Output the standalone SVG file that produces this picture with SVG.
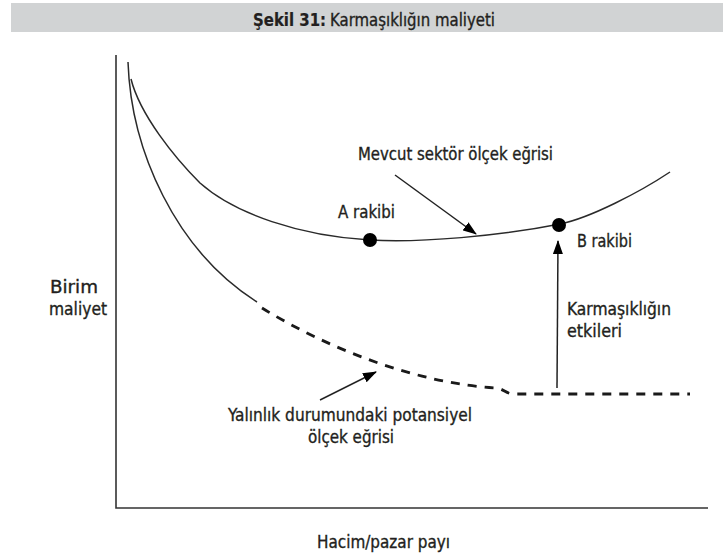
<svg xmlns="http://www.w3.org/2000/svg" width="723" height="556" viewBox="0 0 723 556">
<style>
  .t { font-family: "DejaVu Sans Condensed", "Liberation Sans", sans-serif; font-size: 18.5px; fill: #231f20; stroke: #231f20; stroke-width: 0.35; }
  .b { font-weight: bold; stroke-width: 0.2; }
  .ax { stroke: #333; stroke-width: 1.6; fill: none; }
  .cv { stroke: #2a2a2a; stroke-width: 1.5; fill: none; }
  .dash { stroke: #1a1a1a; stroke-width: 2.8; fill: none; stroke-dasharray: 9 8; }
  .ar { stroke: #222; stroke-width: 1.5; fill: none; marker-end: url(#head); }
  .dot { fill: #000; }
</style>
<defs>
  <marker id="head" markerUnits="userSpaceOnUse" markerWidth="14" markerHeight="10" refX="13" refY="5" orient="auto">
    <path d="M0,0 L14,5 L0,10 z" fill="#000"/>
  </marker>
</defs>
<rect x="0" y="0" width="723" height="556" fill="#fff"/>
<g id="title">
  <rect x="11" y="3" width="712" height="29" fill="#d1d3d4"/>
  <text class="t b" x="253" y="26" textLength="73" lengthAdjust="spacingAndGlyphs">Şekil 31:</text>
  <text class="t" x="330" y="26" textLength="165" lengthAdjust="spacingAndGlyphs">Karmaşıklığın maliyeti</text>
</g>
<g id="axes">
  <polyline class="ax" points="116,55 116,508 708,508"/>
  <text class="t" x="50" y="293" textLength="48" lengthAdjust="spacingAndGlyphs">Birim</text>
  <text class="t" x="49" y="315" textLength="58" lengthAdjust="spacingAndGlyphs">maliyet</text>
  <text class="t" x="317" y="548" textLength="133" lengthAdjust="spacingAndGlyphs">Hacim/pazar payı</text>
</g>
<g id="current-curve">
  <path class="cv" d="M131,79 C140,115 175,158 200,183 C235,214 300,236 370,240 C420,243 500,236 560,224 C590,218 640,192 670,172"/>
  <text class="t" x="358" y="160" textLength="195" lengthAdjust="spacingAndGlyphs">Mevcut sektör ölçek eğrisi</text>
</g>
<g id="potential-curve">
  <path class="cv" d="M128,62 C131,150 175,250 257,302"/>
  <path class="dash" d="M262,308 C330,350 420,384 497,388 C503,389 506,393 512,394 L690,394"/>
  <text class="t" x="228" y="421" textLength="244" lengthAdjust="spacingAndGlyphs">Yalınlık durumundaki potansiyel</text>
  <text class="t" x="308" y="443" textLength="86" lengthAdjust="spacingAndGlyphs">ölçek eğrisi</text>
</g>
<g id="rival-a">
  <circle class="dot" cx="370" cy="240" r="7"/>
  <text class="t" x="338" y="218" textLength="57" lengthAdjust="spacingAndGlyphs">A rakibi</text>
</g>
<g id="rival-b">
  <circle class="dot" cx="559" cy="225" r="7"/>
  <text class="t" x="577" y="247" textLength="55" lengthAdjust="spacingAndGlyphs">B rakibi</text>
</g>
<g id="complexity">
  <text class="t" x="567" y="315" textLength="104" lengthAdjust="spacingAndGlyphs">Karmaşıklığın</text>
  <text class="t" x="567" y="337" textLength="55" lengthAdjust="spacingAndGlyphs">etkileri</text>
</g>
<g id="connectors">
  <line class="ar" x1="395" y1="175" x2="476" y2="234"/>
  <line class="ar" x1="557" y1="388" x2="558" y2="241"/>
  <line class="ar" x1="320" y1="400" x2="376" y2="372"/>
</g>
</svg>
